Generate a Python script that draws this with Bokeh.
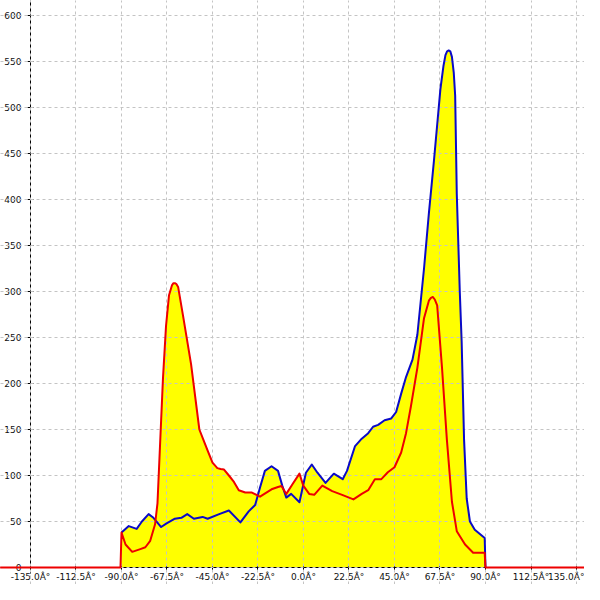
from bokeh.plotting import figure
from bokeh.models import Range1d, FixedTicker, ColumnDataSource
from bokeh.embed import file_html
from bokeh.resources import INLINE

# ---- data ----
x_ticks = [-135.0, -112.5, -90.0, -67.5, -45.0, -22.5, 0.0, 22.5, 45.0, 67.5, 90.0, 112.5, 135.0]
x_tick_labels = ["-135.0Â°", "-112.5Â°", "-90.0Â°", "-67.5Â°", "-45.0Â°", "-22.5Â°", "0.0Â°",
                 "22.5Â°", "45.0Â°", "67.5Â°", "90.0Â°", "112.5Â°", "135.0Â°"]
y_ticks = [0, 50, 100, 150, 200, 250, 300, 350, 400, 450, 500, 550, 600]

blue_angle = [-90, -86.4, -82.5, -79.9, -76.6, -74.2, -70.4, -67.7, -63.6, -60.4, -57.5, -54.2,
              -49.9, -47.4, -41.7, -36.9, -31.2, -27.1, -23.9, -21.5, -19.1, -15.8, -12.6, -10.5,
              -8.5, -6.1, -2.0, 1.2, 4.1, 6.9, 10.9, 15.0, 19.4, 21.5, 25.5, 28.8, 32.0, 34.4,
              36.9, 40.1, 43.4, 45.8, 48.3, 50.7, 53.9, 56.3, 59.6, 62.0, 64.5, 67.7, 69.2, 70.2,
              71.0, 71.8, 72.6, 73.4, 74.3, 75.0, 75.8, 77.3, 78.2, 79.4, 80.7, 82.3, 84.7, 89.6,
              90.0]
blue_value = [38, 45, 42, 50, 58, 54, 44, 48, 53, 54, 58, 53,
              55, 53, 58, 62, 49, 61, 68, 87, 105, 110, 105, 89,
              76, 80, 71, 103, 112, 103, 92, 102, 96, 105, 132, 140, 146, 153,
              155, 160, 162, 169, 189, 207, 226, 253, 325, 385, 442, 520, 545, 557,
              561, 562, 561, 555, 538, 513, 406, 299, 246, 139, 75, 50, 41, 32,
              0]

red_angle = [-150, -90.5, -90, -88, -84.7, -80.7, -78.2, -75.8, -73.4, -72.2, -71, -69.5, -68,
             -66.5, -65, -64.3, -63.6, -62.8, -62, -59.6, -55.6, -51.5, -49, -47.4, -45, -42.6,
             -41, -39.3, -36.9, -34.4, -32, -28.8, -25.5, -21.5, -15.8, -12.6, -10.9, -8.5, -5.3,
             -2, -0.1, 2.8, 5.3, 9.3, 14.2, 19.1, 24.7, 28.8, 32, 35.3, 38.5, 41.7, 45, 48.3,
             50.7, 53.1, 56.3, 59.6, 62, 63, 64, 65, 66.1, 68.5, 70.9, 73.4, 75.8, 79.9, 83.9,
             89.6, 90, 140]
red_value = [0, 0, 38, 25, 17, 20, 22, 29, 47, 70, 130, 205, 262,
             296, 307, 309, 309, 308, 305, 274, 221, 150, 136, 127, 114, 108,
             107, 106.5, 100, 93, 84, 81.5, 81.5, 77, 85, 87.5, 88.6, 80, 91,
             102, 89, 80, 79, 89, 83, 79, 74, 80, 84, 96, 96, 103.5, 109, 125,
             146, 175, 217, 271, 290, 293, 294, 291, 285, 217, 139, 71.5, 39.5, 25, 16,
             16, 0, 0]

blue_src = ColumnDataSource(dict(x=blue_angle, y=blue_value))
red_src = ColumnDataSource(dict(x=red_angle, y=red_value))

p = figure(width=584, height=584, output_backend="svg", toolbar_location=None,
           x_range=Range1d(-149.835, 138.956), y_range=Range1d(-18.478, 616.30),
           min_border=0, min_border_left=0, min_border_right=0, min_border_top=0, min_border_bottom=0)
p.outline_line_color = None
p.background_fill_color = "white"

p.varea(x="x", y1=0, y2="y", source=blue_src, fill_color="#ffff00")
p.varea(x="x", y1=0, y2="y", source=red_src, fill_color="#ffff00")

rb = p.line("x", "y", source=blue_src, line_color="#0a0ac8", line_width=2, line_join="round")
rr = p.line("x", "y", source=red_src, line_color="#ee0000", line_width=2, line_join="round")
rb.level = "annotation"
rr.level = "annotation"

p.xaxis.fixed_location = 0
p.yaxis.fixed_location = -135
p.yaxis.bounds = (-6.5, 616.3)
p.xaxis.ticker = FixedTicker(ticks=x_ticks)
p.yaxis.ticker = FixedTicker(ticks=y_ticks)
p.xaxis.major_label_overrides = {t: l for t, l in zip(x_ticks, x_tick_labels)}

for ax in (p.xaxis, p.yaxis):
    ax.axis_line_color = "black"
    ax.axis_line_width = 1
    ax.major_tick_line_color = "black"
    ax.major_tick_in = 3
    ax.major_tick_out = 3
    ax.minor_tick_line_color = None
    ax.major_label_text_font = "DejaVu Sans"
    ax.major_label_text_font_size = "9px"
    ax.major_label_text_color = "#111111"
p.xaxis.major_label_standoff = 1
p.yaxis.major_label_standoff = 6

for g in (p.xgrid, p.ygrid):
    g.grid_line_color = "#c4c4c4"
    g.grid_line_dash = "3 3"
    g.grid_line_width = 1
    g.level = "guide"

open("out.html", "w").write(file_html(p, INLINE))
